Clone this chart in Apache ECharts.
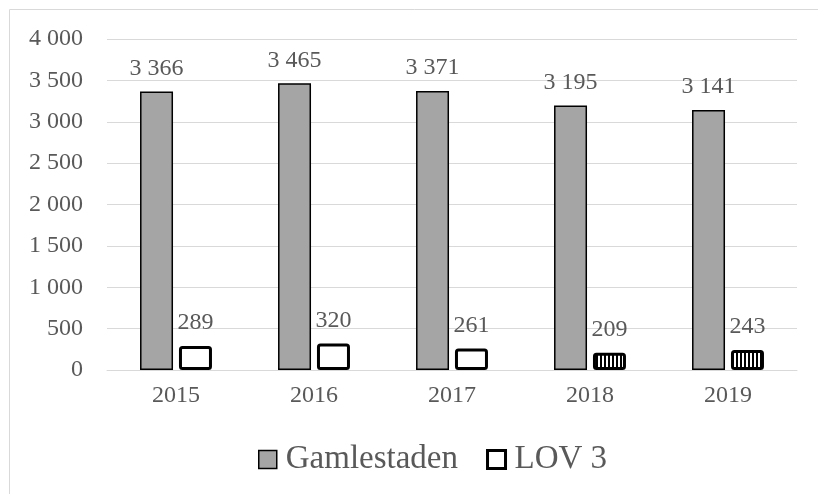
<!DOCTYPE html>
<html>
<head>
<meta charset="utf-8">
<script src="https://cdn.jsdelivr.net/npm/echarts@6/dist/echarts.min.js"></script>
<style>
html, body { margin: 0; padding: 0; background: #fff; }
#main { width: 818px; height: 494px; }
</style>
</head>
<body>
<div id="main"></div>
<script>
var years = ['2015', '2016', '2017', '2018', '2019'];
var gamlestaden = [3366, 3465, 3371, 3195, 3141];
var lov3 = [289, 320, 261, 209, 243];
// de två sista åren är randiga i originalet
var lovStriped = [false, false, false, true, true];
var yTicks = [0, 500, 1000, 1500, 2000, 2500, 3000, 3500, 4000];

var FONT = '"Liberation Serif", "DejaVu Serif", serif';
var TXT = '#595959';

function fmt(v) {
    return String(v).replace(/\B(?=(\d{3})+(?!\d))/g, ' ');
}

// randigt mönster
var stripe = document.createElement('canvas');
stripe.width = 4;
stripe.height = 4;
var ctx = stripe.getContext('2d');
ctx.fillStyle = '#ffffff';
ctx.fillRect(0, 0, 4, 4);
ctx.fillStyle = '#000000';
ctx.fillRect(0, 0, 2, 4);

var lovData = [];
for (var i = 0; i < lov3.length; i++) {
    var item = { value: lov3[i] };
    if (lovStriped[i]) {
        item.itemStyle = { color: { image: stripe, repeat: 'repeat' } };
    }
    lovData.push(item);
}

var myChart = echarts.init(document.getElementById('main'));
var option = {
    animation: false,
    textStyle: { fontFamily: FONT },
    graphic: [{
        type: 'rect',
        shape: { x: 9.5, y: 9.5, width: 1000, height: 1000 },
        style: { fill: 'none', stroke: '#d9d9d9', lineWidth: 1 },
        silent: true
    }],
    grid: {
        left: 107,
        right: 21,
        top: 39,
        bottom: 124
    },
    legend: {
        left: 253,
        top: 438,
        itemWidth: 18,
        itemHeight: 18,
        itemGap: 28,
        icon: 'rect',
        textStyle: { fontFamily: FONT, fontSize: 33, color: TXT, padding: [0, 0, 0, 4] },
        data: [
            { name: 'Gamlestaden', itemStyle: { borderWidth: 1.5, borderColor: '#000' } },
            { name: 'LOV 3', itemStyle: { borderWidth: 3, borderColor: '#000', color: '#fff' } }
        ]
    },
    xAxis: {
        type: 'category',
        data: years,
        axisTick: { show: false },
        axisLine: { lineStyle: { color: '#d9d9d9', width: 1 } },
        axisLabel: { fontFamily: FONT, fontSize: 24, color: TXT, margin: 14 }
    },
    yAxis: {
        type: 'value',
        min: yTicks[0],
        max: yTicks[yTicks.length - 1],
        interval: 500,
        axisLine: { show: false },
        axisTick: { show: false },
        splitLine: { lineStyle: { color: '#d9d9d9', width: 1 } },
        axisLabel: {
            fontFamily: FONT, fontSize: 24, color: TXT, margin: 24,
            formatter: function (v) { return fmt(v); }
        }
    },
    series: [{
        name: 'Gamlestaden',
        type: 'bar',
        data: gamlestaden,
        barWidth: 33,
        barGap: '18%',
        itemStyle: { color: '#a5a5a5', borderColor: '#000000', borderWidth: 1.5 },
        label: {
            show: true, position: 'top', distance: 11,
            fontFamily: FONT, fontSize: 24, color: TXT,
            formatter: function (p) { return fmt(p.value); }
        }
    }, {
        name: 'LOV 3',
        type: 'bar',
        data: lovData,
        barWidth: 33,
        itemStyle: { color: '#ffffff', borderColor: '#000000', borderWidth: 3, borderRadius: 2 },
        label: {
            show: true, position: 'top', distance: 11,
            fontFamily: FONT, fontSize: 24, color: TXT,
            formatter: function (p) { return fmt(p.value); }
        }
    }]
};
myChart.setOption(option);
</script>
</body>
</html>
